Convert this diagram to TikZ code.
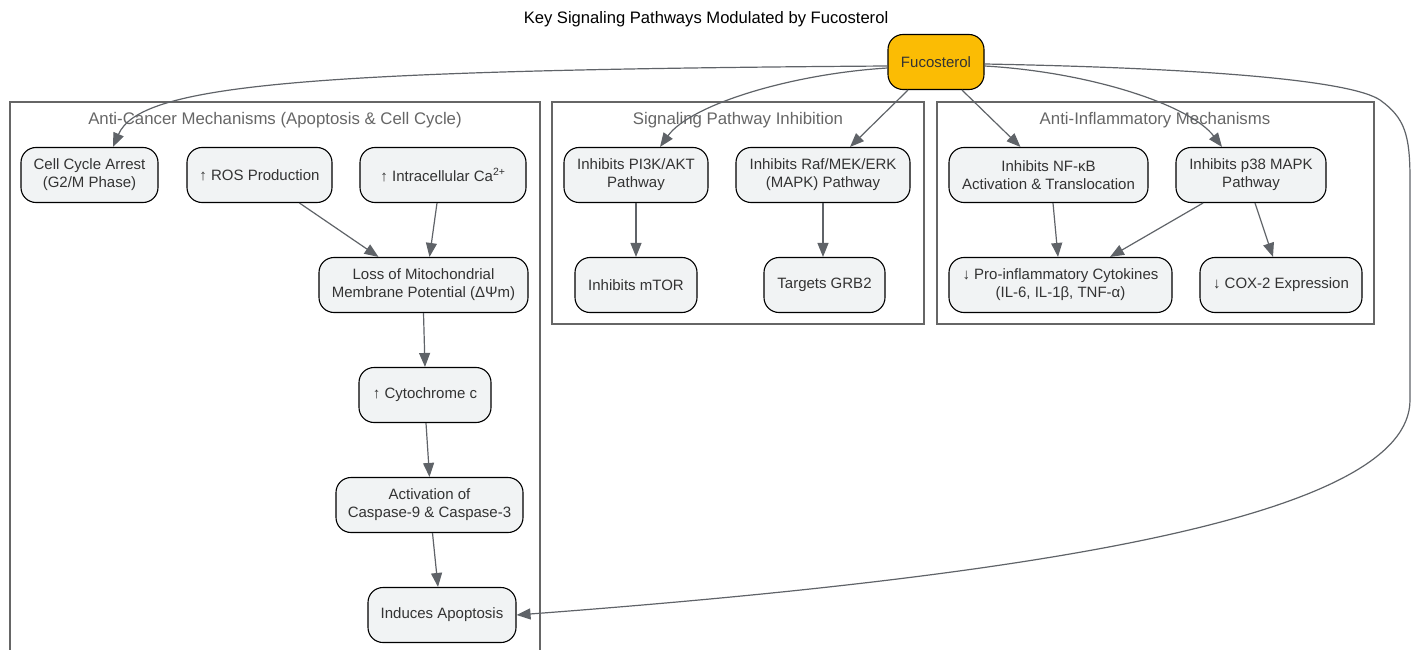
\documentclass[tikz,border=0pt]{standalone}
\usepackage{fontspec}
\setmainfont{Liberation Sans}
\usetikzlibrary{arrows.meta,calc}
\definecolor{edgegray}{HTML}{5F6368}
\definecolor{nodefill}{HTML}{F1F3F4}
\definecolor{fucofill}{HTML}{FBBC04}
\definecolor{clustergray}{HTML}{666666}
\definecolor{txt}{HTML}{333333}
\begin{document}
\begin{tikzpicture}[x=1pt,y=-1pt,
  box/.style={draw=black, line width=1.1pt, fill=nodefill, rounded corners=15pt,
    minimum height=55pt, inner sep=0pt, align=center,
    font=\fontsize{15}{18}\selectfont, text=txt},
  fucobox/.style={box, fill=fucofill},
  edge/.style={draw=edgegray, line width=1.2pt,
    -{Triangle[length=14pt,width=11pt]}},
  cluster/.style={draw=clustergray, line width=1.2pt},
  clabel/.style={text=clustergray, font=\fontsize{16.8}{20}\selectfont, inner sep=0pt},
  title/.style={text=black, font=\fontsize{16.6}{20}\selectfont, inner sep=0pt}
]
\useasboundingbox (0,0) rectangle (1422,650);

% title
\node[title] (ttl) at (706,19) {Key Signaling Pathways Modulated by Fucosterol};

% clusters
\draw[cluster] (10,660) -- (10,102) -- (540,102) -- (540,660);
\draw[cluster] (552,102) rectangle (924,324);
\draw[cluster] (937,102) rectangle (1374,324);
\node[clabel] (lac) at (275,120) {Anti-Cancer Mechanisms (Apoptosis \& Cell Cycle)};
\node[clabel] (lsp) at (738,120) {Signaling Pathway Inhibition};
\node[clabel] (lai) at (1155,120) {Anti-Inflammatory Mechanisms};

% nodes
\node[fucobox, minimum width=96pt] (fuco) at (936,62) {Fucosterol};

\node[box, minimum width=137pt] (cca) at (89.5,175) {Cell Cycle Arrest\\(G2/M Phase)};
\node[box, minimum width=145pt] (ros) at (259.5,175) {↑ ROS Production};
\node[box, minimum width=166pt] (ca) at (443,175) {↑ Intracellular Ca\textsuperscript{2+}};
\node[box, minimum width=209pt] (loss) at (423.5,285) {Loss of Mitochondrial\\Membrane Potential (ΔΨm)};
\node[box, minimum width=132pt] (cyt) at (425,395) {↑ Cytochrome c};
\node[box, minimum width=187pt] (casp) at (429.5,505) {Activation of\\Caspase-9 \& Caspase-3};
\node[box, minimum width=148pt] (apop) at (442,615) {Induces Apoptosis};

\node[box, minimum width=144pt] (pi3k) at (636,175) {Inhibits PI3K/AKT\\Pathway};
\node[box, minimum width=174pt] (raf) at (823,175) {Inhibits Raf/MEK/ERK\\(MAPK) Pathway};
\node[box, minimum width=122pt] (mtor) at (636,285) {Inhibits mTOR};
\node[box, minimum width=121pt] (grb) at (824.5,285) {Targets GRB2};

\node[box, minimum width=199pt] (nfkb) at (1048.5,175) {Inhibits NF-κB\\Activation \& Translocation};
\node[box, minimum width=150pt] (p38) at (1251,175) {Inhibits p38 MAPK\\Pathway};
\node[box, minimum width=223pt] (cyto) at (1060.5,285) {↓ Pro-inflammatory Cytokines\\(IL-6, IL-1β, TNF-α)};
\node[box, minimum width=162pt] (cox) at (1281,285) {↓ COX-2 Expression};

% edges from Fucosterol
\draw[edge] ($(fuco.west)+(0,4)$) .. controls (300,70) and (140,85) .. ($(cca.north)+(23.5,0)$);
\draw[edge] ($(fuco.west)+(0,6)$) .. controls (790,74) and (690,105) .. ($(pi3k.north)+(24,0)$);
\draw[edge] ($(fuco.south)+(-28,0)$) -- ($(raf.north)+(27,0)$);
\draw[edge] ($(fuco.south)+(26,0)$) -- ($(nfkb.north)+(-28,0)$);
\draw[edge] ($(fuco.east)+(0,4)$) .. controls (1090,72) and (1190,105) .. ($(p38.north)+(-29,0)$);
\draw[edge] ($(fuco.east)+(0,2)$) .. controls (1200,68) and (1350,80) .. (1380,100)
  .. controls (1405,118) and (1410,135) .. (1410,180) -- (1410,400)
  .. controls (1410,515) and (1050,575) .. (apop.east);

% anti-cancer chain
\draw[edge] ($(ros.south)+(40,0)$) -- ($(loss.north)+(-45,0)$);
\draw[edge] ($(ca.south)+(-6,0)$) -- ($(loss.north)+(6,0)$);
\draw[edge] (loss.south) -- (cyt.north);
\draw[edge] ($(cyt.south)+(1,0)$) -- (casp.north);
\draw[edge] ($(casp.south)+(3,0)$) -- ($(apop.north)+(-4,0)$);

% signaling
\draw[edge] (pi3k.south) -- (mtor.north);
\draw[edge] (raf.south) -- ($(grb.north)+(-1.5,0)$);

% anti-inflammatory
\draw[edge] ($(nfkb.south)+(4.5,0)$) -- ($(cyto.north)+(-2.5,0)$);
\draw[edge] ($(p38.south)+(-48,0)$) -- ($(cyto.north)+(49.5,0)$);
\draw[edge] ($(p38.south)+(4,0)$) -- ($(cox.north)+(-8,0)$);
\end{tikzpicture}
\end{document}
